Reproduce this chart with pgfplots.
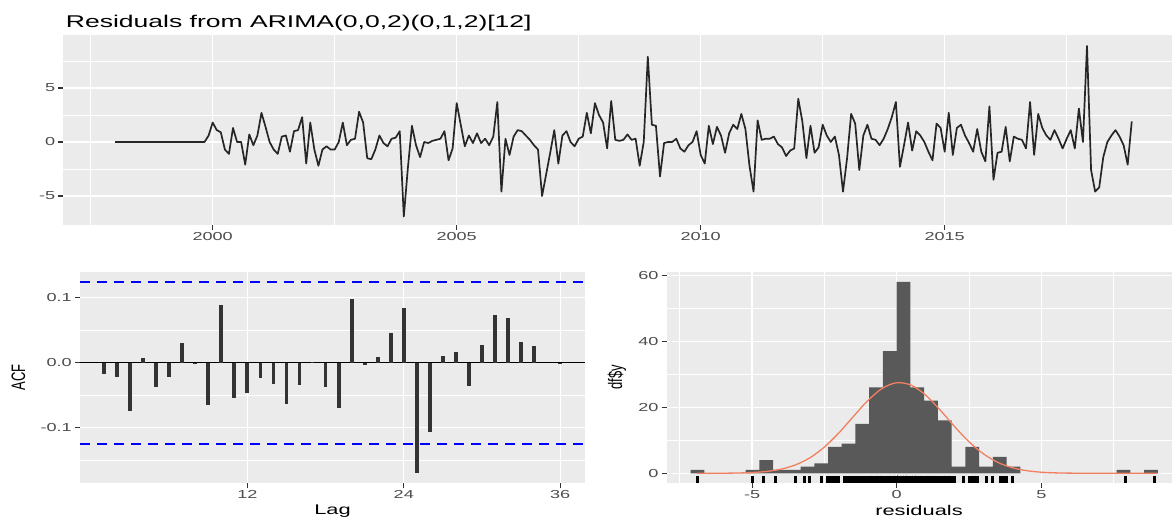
\documentclass[border=0pt]{standalone}
\usepackage{fontspec}
\setmainfont{Liberation Sans}
\usepackage{graphicx}
\usepackage{pgfplots}
\usepackage{pgfplotstable}
\pgfplotsset{compat=1.18}
\definecolor{panelbg}{RGB}{235,235,235}
\definecolor{ticklab}{RGB}{77,77,77}
\definecolor{tickcol}{RGB}{51,51,51}
\definecolor{barfill}{RGB}{89,89,89}
\definecolor{curvecol}{RGB}{242,128,96}
\definecolor{ciblue}{RGB}{0,0,255}
\newcommand{\sx}[1]{\scalebox{1.56}[1]{#1}}
\newcommand{\tickfont}{\fontsize{11.6}{12}\selectfont}
\newcommand{\labfont}{\fontsize{14}{15}\selectfont}

% residual series, monthly from Jan 1998 (column r); rugy = rug height
\pgfplotstableread[row sep=\\]{
r\\
0\\0\\0\\0\\0\\0\\0\\0\\0\\0\\0\\0\\0\\0\\0\\0\\0\\0\\0\\0\\0\\0\\0\\
0.6\\1.8\\1.1\\0.9\\-0.7\\-1.1\\1.3\\0.0\\0.0\\-2.1\\0.7\\-0.3\\0.6\\
2.7\\1.4\\0.0\\-0.7\\-1.1\\0.5\\0.6\\-0.9\\1.0\\1.1\\2.3\\-2.0\\
1.8\\-0.7\\-2.2\\-0.7\\-0.4\\-0.7\\-0.7\\0.0\\1.8\\-0.3\\0.2\\0.3\\
2.8\\1.8\\-1.5\\-1.6\\-0.7\\0.6\\-0.1\\-0.4\\0.3\\0.4\\1.0\\-6.9\\
-2.4\\1.5\\-0.3\\-1.4\\0.0\\-0.1\\0.1\\0.2\\0.3\\1.0\\-1.7\\-0.6\\
3.6\\1.6\\-0.4\\0.6\\-0.1\\0.8\\-0.1\\0.3\\-0.3\\0.5\\3.7\\-4.6\\
0.3\\-1.2\\0.5\\1.1\\1.0\\0.6\\0.2\\
-0.3\\-0.7\\-5.0\\-3.0\\-1.0\\1.1\\-2.0\\0.6\\1.0\\0.0\\-0.4\\0.3\\
0.5\\2.7\\0.8\\3.6\\2.5\\1.8\\-0.6\\3.8\\0.2\\0.1\\0.2\\0.7\\
0.2\\0.3\\-2.2\\0.0\\7.9\\1.6\\1.5\\-3.2\\-0.1\\0.0\\0.0\\0.3\\
-0.6\\-0.9\\-0.3\\0.0\\1.0\\-1.2\\-2.0\\1.5\\-0.2\\1.4\\0.6\\-1.0\\
0.8\\1.6\\1.2\\2.6\\1.2\\-2.2\\-4.6\\2.0\\0.2\\0.3\\0.3\\0.5\\
-0.2\\-0.5\\-1.3\\-0.8\\-0.6\\4.0\\1.9\\-1.5\\1.5\\-1.0\\-0.5\\1.6\\
0.6\\0.0\\0.5\\-1.2\\-4.6\\-1.5\\2.6\\1.7\\-2.6\\0.6\\1.6\\0.3\\
0.2\\-0.3\\0.3\\1.2\\2.3\\3.7\\-2.3\\-0.3\\1.8\\-0.8\\1.0\\0.6\\
0.0\\-0.9\\-1.7\\1.7\\1.3\\-0.9\\2.7\\-1.2\\1.3\\1.6\\0.6\\-0.1\\
-0.9\\1.2\\-0.9\\-1.8\\3.3\\-3.5\\-1.0\\-0.9\\1.4\\-1.8\\0.5\\0.3\\
0.2\\-0.6\\3.7\\-1.2\\2.6\\1.3\\0.6\\0.2\\1.1\\0.3\\-0.6\\0.3\\
1.1\\-0.6\\3.1\\0.0\\8.9\\-2.6\\-4.6\\-4.2\\-1.4\\0.0\\0.6\\1.1\\
0.5\\-0.3\\-2.1\\1.9\\
}\resid
\pgfplotstablecreatecol[expr={1998+\pgfplotstablerow/12}]{t}{\resid}
\pgfplotstablecreatecol[expr={-1.9}]{rugy}{\resid}

\pgfplotstableread{
lag acf
1 -0.017
2 -0.022
3 -0.075
4 0.008
5 -0.038
6 -0.022
7 0.031
8 -0.002
9 -0.065
10 0.089
11 -0.055
12 -0.047
13 -0.024
14 -0.032
15 -0.064
16 -0.034
17 0.001
18 -0.037
19 -0.069
20 0.098
21 -0.004
22 0.009
23 0.046
24 0.084
25 -0.169
26 -0.106
27 0.011
28 0.017
29 -0.036
30 0.027
31 0.073
32 0.068
33 0.032
34 0.025
35 0.000
36 -0.001
}\acf

\pgfplotstableread{
left count
-7.125 1
-6.65 0
-6.175 0
-5.7 0
-5.225 1
-4.75 4
-4.275 1
-3.8 1
-3.325 2
-2.85 3
-2.375 8
-1.9 9
-1.425 15
-0.95 26
-0.475 37
0 58
0.475 26
0.95 22
1.425 16
1.9 2
2.375 8
2.85 2
3.325 5
3.8 2
4.275 0
4.75 0
5.225 0
5.7 0
6.175 0
6.65 0
7.125 0
7.6 1
8.075 0
8.55 1
9.025 0
}\hist

\pgfplotstableread{
x dens
-6.9 0.00
-6.0 0.03
-5.5 0.09
-5.0 0.23
-4.5 0.56
-4.0 1.25
-3.5 2.55
-3.0 4.70
-2.5 7.95
-2.0 12.23
-1.5 17.19
-1.0 22.02
-0.5 25.74
0.0 27.45
0.5 26.70
1.0 23.70
1.5 19.19
2.0 14.17
2.5 9.55
3.0 5.87
3.5 3.29
4.0 1.68
4.5 0.79
5.0 0.33
5.5 0.13
6.0 0.05
7.0 0.00
8.0 0.00
9.0 0.00
}\dens

\pgfplotsset{
  ggbase/.style={
    scale only axis,
    anchor=south west,
    axis background/.style={fill=panelbg},
    axis line style={draw=none},
    grid=both,
    major grid style={white, line width=1.3pt},
    minor grid style={white, line width=0.65pt},
    tick align=outside,
    major tick length=5pt,
    minor tick length=0pt,
    tick style={tickcol, line width=1.1pt},
    xtick pos=left, ytick pos=left,
    xticklabel style={font=\tickfont, text=ticklab, inner sep=0pt, anchor=north, yshift=-2pt},
    yticklabel style={font=\tickfont, text=ticklab, inner sep=0pt, anchor=east, xshift=-3pt},
  },
}

\begin{document}
\begin{tikzpicture}
\useasboundingbox (0pt,0pt) rectangle (1172pt,517pt);

% top panel
\begin{axis}[ggbase, at={(63.3pt,292pt)}, width=1108.7pt, height=190pt,
  xmin=1996.939, xmax=2019.658, ymin=-7.69, ymax=9.91,
  xtick={2000,2005,2010,2015}, xticklabels={\sx{2000},\sx{2005},\sx{2010},\sx{2015}},
  minor xtick={1997.5,2002.5,2007.5,2012.5,2017.5},
  ytick={-5,0,5}, yticklabels={\sx{-5},\sx{0},\sx{5}},
  minor ytick={-2.5,2.5,7.5},
]
\addplot[draw=black!85, line width=1.7pt, line join=round, mark=none] table[x=t, y=r]{\resid};
\end{axis}

% ACF panel
\begin{axis}[ggbase, at={(80pt,34pt)}, width=505pt, height=211pt,
  xmin=-0.84, xmax=37.9, ymin=-0.185, ymax=0.1395,
  xtick={12,24,36}, xticklabels={\sx{12},\sx{24},\sx{36}},
  ytick={-0.1,0,0.1}, yticklabels={\sx{-0.1},\sx{0.0},\sx{0.1}},
  minor ytick={-0.15,-0.05,0.05},
]
\addplot[draw={rgb,255:red,0;green,0;blue,255}, dash pattern=on 10pt off 7pt, line width=1.8pt, mark=none] coordinates {(-0.84,0.1245) (37.9,0.1245)};
\addplot[draw={rgb,255:red,0;green,0;blue,255}, dash pattern=on 10pt off 7pt, line width=1.8pt, mark=none] coordinates {(-0.84,-0.1245) (37.9,-0.1245)};
\addplot[draw=black, line width=1.3pt, mark=none] coordinates {(-0.84,0) (37.9,0)};
\addplot[ycomb, draw=black!80, line width=3.8pt, mark=none] table[x=lag, y=acf]{\acf};
\end{axis}

% histogram panel
\begin{axis}[ggbase, at={(666.7pt,34pt)}, width=505.3pt, height=211pt,
  xmin=-7.95, xmax=9.516, ymin=-2.94, ymax=61.0,
  xtick={-5,0,5}, xticklabels={\sx{-5},\sx{0},\sx{5}},
  minor xtick={-7.5,-2.5,2.5,7.5},
  ytick={0,20,40,60}, yticklabels={\sx{0},\sx{20},\sx{40},\sx{60}},
  minor ytick={10,30,50},
]
\addplot[ybar interval, fill=barfill, draw=none] table[x=left, y=count]{\hist};
\addplot[draw=curvecol, line width=1.3pt, smooth, mark=none] table[x=x, y=dens]{\dens};
\addplot[only marks, mark=|, mark size=3.6pt, black, mark options={line width=3pt}] table[x=r, y=rugy]{\resid};
\end{axis}

% titles and axis labels
\node[anchor=base west, inner sep=0pt, font=\fontsize{17}{18}\selectfont] at (65.7pt,489.7pt) {\sx{Residuals from ARIMA(0,0,2)(0,1,2)[12]}};
\node[anchor=north, inner sep=0pt, font=\labfont] at (332.5pt,12pt) {\sx{Lag}};
\node[anchor=north, inner sep=0pt, font=\labfont] at (919pt,12pt) {\sx{residuals}};
\node[rotate=90, inner sep=0pt, font=\fontsize{13}{14}\selectfont] at (18.3pt,139.5pt) {\scalebox{1}[1.5]{ACF}};
\node[rotate=90, inner sep=0pt, font=\fontsize{13}{14}\selectfont] at (617pt,139.5pt) {\scalebox{1}[1.5]{df\$y}};
\end{tikzpicture}
\end{document}
